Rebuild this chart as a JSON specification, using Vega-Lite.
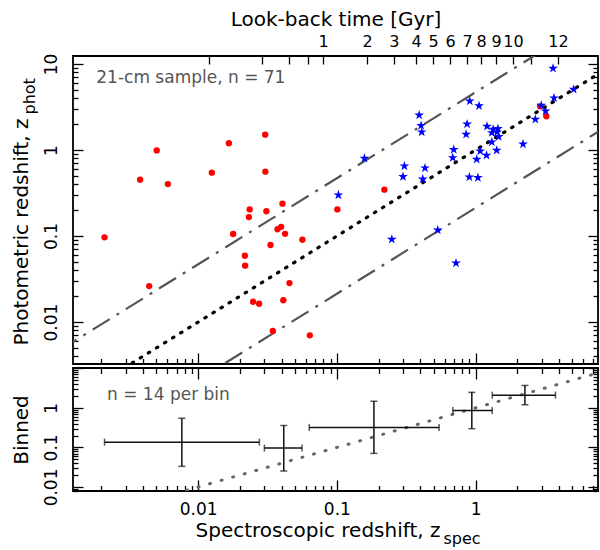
{
  "$schema": "https://vega.github.io/schema/vega-lite/v6.json",
  "background": "white",
  "padding": {"left": 10, "top": 8, "right": 2, "bottom": 2},
  "spacing": 0,
  "datasets": {
    "lines": [
      {"z": 0.001, "one": 0.001, "hi": 0.0047, "lo": 0.000213},
      {"z": 10, "one": 10, "hi": 47, "lo": 2.13}
    ],
    "red": [
      {"z": 0.00211, "zp": 0.0966}, {"z": 0.00381, "zp": 0.452}, {"z": 0.00502, "zp": 0.99},
      {"z": 0.00604, "zp": 0.402}, {"z": 0.00443, "zp": 0.0262}, {"z": 0.01253, "zp": 0.545},
      {"z": 0.01663, "zp": 1.2}, {"z": 0.01786, "zp": 0.1055}, {"z": 0.0304, "zp": 1.51},
      {"z": 0.0305, "zp": 0.56}, {"z": 0.0235, "zp": 0.204}, {"z": 0.0232, "zp": 0.166},
      {"z": 0.031, "zp": 0.194}, {"z": 0.0405, "zp": 0.238}, {"z": 0.0396, "zp": 0.128},
      {"z": 0.0373, "zp": 0.12}, {"z": 0.0423, "zp": 0.106}, {"z": 0.0332, "zp": 0.0786},
      {"z": 0.0217, "zp": 0.059}, {"z": 0.0218, "zp": 0.0452}, {"z": 0.0564, "zp": 0.0906},
      {"z": 0.0455, "zp": 0.0284}, {"z": 0.0249, "zp": 0.0172}, {"z": 0.0275, "zp": 0.0163},
      {"z": 0.0411, "zp": 0.0179}, {"z": 0.0345, "zp": 0.00786}, {"z": 0.0638, "zp": 0.007},
      {"z": 0.1008, "zp": 0.204}, {"z": 0.22, "zp": 0.346}, {"z": 3.24, "zp": 2.47},
      {"z": 2.92, "zp": 3.22}
    ],
    "blue": [
      {"z": 0.1025, "zp": 0.3}, {"z": 0.158, "zp": 0.8}, {"z": 0.249, "zp": 0.0916},
      {"z": 0.307, "zp": 0.652}, {"z": 0.3, "zp": 0.49}, {"z": 0.392, "zp": 2.55},
      {"z": 0.405, "zp": 1.92}, {"z": 0.409, "zp": 1.62}, {"z": 0.432, "zp": 0.618},
      {"z": 0.416, "zp": 0.46}, {"z": 0.534, "zp": 0.117}, {"z": 0.723, "zp": 0.0485},
      {"z": 0.696, "zp": 1.01}, {"z": 0.685, "zp": 0.814}, {"z": 0.908, "zp": 3.71},
      {"z": 1.06, "zp": 3.27}, {"z": 0.869, "zp": 2.0}, {"z": 0.855, "zp": 1.52},
      {"z": 0.902, "zp": 0.485}, {"z": 1.04, "zp": 0.477}, {"z": 1.08, "zp": 0.973},
      {"z": 1.02, "zp": 0.78}, {"z": 1.2, "zp": 0.867}, {"z": 1.21, "zp": 1.885},
      {"z": 1.34, "zp": 1.74}, {"z": 1.45, "zp": 1.77}, {"z": 1.31, "zp": 1.59},
      {"z": 1.43, "zp": 1.62}, {"z": 1.47, "zp": 1.43}, {"z": 1.31, "zp": 1.24},
      {"z": 1.42, "zp": 0.99}, {"z": 2.2, "zp": 1.17}, {"z": 2.7, "zp": 2.27},
      {"z": 2.98, "zp": 3.31}, {"z": 3.2, "zp": 2.84}, {"z": 3.62, "zp": 8.9},
      {"z": 3.68, "zp": 4.03}, {"z": 5.1, "zp": 5.08}
    ],
    "bins": [
      {"z": 0.00762, "zlo": 0.00211, "zhi": 0.0276, "p": 0.136, "plo": 0.0332, "phi": 0.547},
      {"z": 0.0414, "zlo": 0.03, "zhi": 0.0561, "p": 0.096, "plo": 0.0253, "phi": 0.358},
      {"z": 0.185, "zlo": 0.0632, "zhi": 0.546, "p": 0.321, "plo": 0.0706, "phi": 1.47},
      {"z": 0.94, "zlo": 0.686, "zhi": 1.32, "p": 0.855, "plo": 0.298, "phi": 2.47},
      {"z": 2.27, "zlo": 1.32, "zhi": 3.77, "p": 2.1, "plo": 1.2, "phi": 3.69}
    ],
    "note_top": [{"z": 0.00184, "zp": 6.06, "text": "21-cm sample, n = 71"}],
    "note_bottom": [{"z": 0.0022, "zp": 1.59, "text": "n = 14 per bin"}]
  },
  "vconcat": [
    {
      "width": 525,
      "height": 308,
      "layer": [
        {
          "data": {"name": "lines"},
          "mark": {"type": "line", "clip": true, "color": "#555555", "strokeWidth": 2.2, "strokeDash": [20, 8, 3, 8]},
          "encoding": {
            "x": {"field": "z", "type": "quantitative", "scale": {"type": "log", "domain": [0.00125, 7.64], "nice": false},
              "axis": {"orient": "bottom", "values": [0.01, 0.1, 1], "labels": false, "tickSize": -11, "title": null}},
            "y": {"field": "hi", "type": "quantitative", "scale": {"type": "log", "domain": [0.00325, 12.4], "nice": false},
              "axis": {"orient": "left", "values": [0.01, 0.1, 1, 10], "tickSize": -10,
                "labelExpr": "datum.value >= 10 ? '10' : datum.value >= 1 ? '1' : datum.value >= 0.1 ? '0.1' : '0.01'",
                "labelAngle": 270, "labelAlign": "center", "labelBaseline": "alphabetic", "labelPadding": 27, "labelFontSize": 17,
                "title": "Photometric redshift, z", "titleFontSize": 20, "titleAngle": 270, "titleAlign": "right",
                "titleBaseline": "alphabetic", "titleX": -46, "titleY": 62}}
          }
        },
        {
          "data": {"name": "lines"},
          "mark": {"type": "line", "clip": true, "color": "#555555", "strokeWidth": 2.2, "strokeDash": [20, 8, 3, 8]},
          "encoding": {
            "x": {"field": "z", "type": "quantitative", "scale": {"type": "log", "domain": [0.00125, 7.64], "nice": false},
              "axis": {"orient": "bottom", "values": [0.002,0.003,0.004,0.005,0.006,0.007,0.008,0.009,0.02,0.03,0.04,0.05,0.06,0.07,0.08,0.09,0.2,0.3,0.4,0.5,0.6,0.7,0.8,0.9,2,3,4,5,6,7], "labels": false, "tickSize": -5.5, "title": null}},
            "y": {"field": "lo", "type": "quantitative", "scale": {"type": "log", "domain": [0.00325, 12.4], "nice": false},
              "axis": {"orient": "left", "values": [0.004,0.005,0.006,0.007,0.008,0.009,0.02,0.03,0.04,0.05,0.06,0.07,0.08,0.09,0.2,0.3,0.4,0.5,0.6,0.7,0.8,0.9,2,3,4,5,6,7,8,9], "labels": false, "tickSize": -5,
                "title": "phot", "titleFontSize": 16, "titleAngle": 270, "titleAlign": "left", "titleBaseline": "alphabetic", "titleX": -39, "titleY": 58}}
          }
        },
        {
          "data": {"name": "lines"},
          "mark": {"type": "line", "clip": true, "color": "black", "strokeWidth": 3.2, "strokeDash": [1.5, 8], "strokeCap": "round"},
          "encoding": {
            "x": {"field": "z", "type": "quantitative", "scale": {"type": "log", "domain": [0.00125, 7.64], "nice": false},
              "axis": {"orient": "top", "values": [0.012,0.0289,0.0452,0.062,0.0795,0.165,0.258,0.372,0.494,0.655,0.869,1.096,1.406,1.86,2.51,3.93],
                "tickSize": -8,
                "labelExpr": "datum.value < 0.07 ? '' : datum.value < 0.1 ? '1' : datum.value < 0.2 ? '2' : datum.value < 0.3 ? '3' : datum.value < 0.4 ? '4' : datum.value < 0.55 ? '5' : datum.value < 0.7 ? '6' : datum.value < 0.95 ? '7' : datum.value < 1.2 ? '8' : datum.value < 1.6 ? '9' : datum.value < 2.2 ? '10' : datum.value < 3 ? '' : '12'",
                "labelFontSize": 16, "labelBaseline": "alphabetic", "labelPadding": 18,
                "title": "Look-back time [Gyr]", "titleFontSize": 20, "titleBaseline": "alphabetic", "titleY": -31}},
            "y": {"field": "one", "type": "quantitative", "scale": {"type": "log", "domain": [0.00325, 12.4], "nice": false},
              "axis": {"orient": "right", "values": [0.01, 0.1, 1, 10], "labels": false, "tickSize": -10, "title": null}}
          }
        },
        {
          "data": {"name": "red"},
          "mark": {"type": "circle", "color": "#ff0000", "opacity": 1, "size": 40},
          "encoding": {
            "x": {"field": "z", "type": "quantitative", "scale": {"type": "log", "domain": [0.00125, 7.64], "nice": false}, "axis": null},
            "y": {"field": "zp", "type": "quantitative", "scale": {"type": "log", "domain": [0.00325, 12.4], "nice": false},
              "axis": {"orient": "right", "values": [0.004,0.005,0.006,0.007,0.008,0.009,0.02,0.03,0.04,0.05,0.06,0.07,0.08,0.09,0.2,0.3,0.4,0.5,0.6,0.7,0.8,0.9,2,3,4,5,6,7,8,9], "labels": false, "tickSize": -5, "title": null}}
          }
        },
        {
          "data": {"name": "blue"},
          "mark": {"type": "point", "shape": "M0,-1L0.2245,-0.309L0.951,-0.309L0.363,0.118L0.588,0.809L0,0.382L-0.588,0.809L-0.363,0.118L-0.951,-0.309L-0.2245,-0.309Z", "filled": true, "color": "#0000ff", "opacity": 1, "size": 105},
          "encoding": {
            "x": {"field": "z", "type": "quantitative", "scale": {"type": "log", "domain": [0.00125, 7.64], "nice": false}, "axis": null},
            "y": {"field": "zp", "type": "quantitative", "scale": {"type": "log", "domain": [0.00325, 12.4], "nice": false}, "axis": null}
          }
        },
        {
          "data": {"name": "note_top"},
          "mark": {"type": "text", "align": "left", "baseline": "alphabetic", "fontSize": 17, "color": "#555555"},
          "encoding": {
            "x": {"field": "z", "type": "quantitative", "scale": {"type": "log", "domain": [0.00125, 7.64], "nice": false}, "axis": null},
            "y": {"field": "zp", "type": "quantitative", "scale": {"type": "log", "domain": [0.00325, 12.4], "nice": false}, "axis": null},
            "text": {"field": "text"}
          }
        }
      ],
      "resolve": {"axis": {"x": "independent", "y": "independent"}}
    },
    {
      "width": 525,
      "height": 123,
      "layer": [
        {
          "data": {"name": "lines"},
          "mark": {"type": "line", "clip": true, "color": "#666666", "strokeWidth": 3, "strokeDash": [1, 11], "strokeCap": "round"},
          "encoding": {
            "x": {"field": "z", "type": "quantitative", "scale": {"type": "log", "domain": [0.00125, 7.64], "nice": false},
              "axis": {"orient": "bottom", "values": [0.01, 0.1, 1], "tickSize": -11,
                "labelExpr": "datum.value >= 1 ? '1' : datum.value >= 0.1 ? '0.1' : '0.01'",
                "labelFontSize": 17, "labelBaseline": "alphabetic", "labelPadding": 34,
                "title": "Spectroscopic redshift, z", "titleFontSize": 20, "titleAlign": "right", "titleBaseline": "alphabetic",
                "titleX": 367, "titleY": 45}},
            "y": {"field": "one", "type": "quantitative", "scale": {"type": "log", "domain": [0.0079, 10.2], "nice": false},
              "axis": {"orient": "left", "values": [0.01, 0.1, 1, 10], "tickSize": -10,
                "labelExpr": "datum.value >= 10 ? '' : datum.value >= 1 ? '1' : datum.value >= 0.1 ? '0.1' : '0.01'",
                "labelAngle": 270, "labelAlign": "center", "labelBaseline": "alphabetic", "labelPadding": 27, "labelFontSize": 17,
                "title": "Binned", "titleFontSize": 20, "titleAngle": 270, "titleBaseline": "alphabetic", "titleX": -46}}
          }
        },
        {
          "data": {"name": "bins"},
          "mark": {"type": "rule", "color": "#111111", "strokeWidth": 1.5},
          "encoding": {
            "x": {"field": "zlo", "type": "quantitative", "scale": {"type": "log", "domain": [0.00125, 7.64], "nice": false},
              "axis": {"orient": "bottom", "values": [0.002,0.003,0.004,0.005,0.006,0.007,0.008,0.009,0.02,0.03,0.04,0.05,0.06,0.07,0.08,0.09,0.2,0.3,0.4,0.5,0.6,0.7,0.8,0.9,2,3,4,5,6,7], "labels": false, "tickSize": -5.5,
                "title": "spec", "titleFontSize": 16, "titleAlign": "left", "titleBaseline": "alphabetic", "titleX": 370, "titleY": 52}},
            "x2": {"field": "zhi"},
            "y": {"field": "p", "type": "quantitative", "scale": {"type": "log", "domain": [0.0079, 10.2], "nice": false},
              "axis": {"orient": "left", "values": [0.008,0.009,0.02,0.03,0.04,0.05,0.06,0.07,0.08,0.09,0.2,0.3,0.4,0.5,0.6,0.7,0.8,0.9,2,3,4,5,6,7,8,9], "labels": false, "tickSize": -5, "title": null}}
          }
        },
        {
          "data": {"name": "bins"},
          "mark": {"type": "rule", "color": "#111111", "strokeWidth": 1.5},
          "encoding": {
            "x": {"field": "z", "type": "quantitative", "scale": {"type": "log", "domain": [0.00125, 7.64], "nice": false},
              "axis": {"orient": "top", "values": [0.01, 0.1, 1], "labels": false, "tickSize": -11, "title": null}},
            "y": {"field": "plo", "type": "quantitative", "scale": {"type": "log", "domain": [0.0079, 10.2], "nice": false},
              "axis": {"orient": "right", "values": [0.01, 0.1, 1, 10], "labels": false, "tickSize": -10, "title": null}},
            "y2": {"field": "phi"}
          }
        },
        {
          "data": {"name": "bins"},
          "mark": {"type": "tick", "orient": "vertical", "color": "#111111", "size": 7, "thickness": 1.5},
          "encoding": {
            "x": {"field": "zlo", "type": "quantitative", "scale": {"type": "log", "domain": [0.00125, 7.64], "nice": false},
              "axis": {"orient": "top", "values": [0.002,0.003,0.004,0.005,0.006,0.007,0.008,0.009,0.02,0.03,0.04,0.05,0.06,0.07,0.08,0.09,0.2,0.3,0.4,0.5,0.6,0.7,0.8,0.9,2,3,4,5,6,7], "labels": false, "tickSize": -5.5, "title": null}},
            "y": {"field": "p", "type": "quantitative", "scale": {"type": "log", "domain": [0.0079, 10.2], "nice": false},
              "axis": {"orient": "right", "values": [0.008,0.009,0.02,0.03,0.04,0.05,0.06,0.07,0.08,0.09,0.2,0.3,0.4,0.5,0.6,0.7,0.8,0.9,2,3,4,5,6,7,8,9], "labels": false, "tickSize": -5, "title": null}}
          }
        },
        {
          "data": {"name": "bins"},
          "mark": {"type": "tick", "orient": "vertical", "color": "#111111", "size": 7, "thickness": 1.5},
          "encoding": {
            "x": {"field": "zhi", "type": "quantitative", "scale": {"type": "log", "domain": [0.00125, 7.64], "nice": false}, "axis": null},
            "y": {"field": "p", "type": "quantitative", "scale": {"type": "log", "domain": [0.0079, 10.2], "nice": false}, "axis": null}
          }
        },
        {
          "data": {"name": "bins"},
          "mark": {"type": "tick", "orient": "horizontal", "color": "#111111", "size": 7, "thickness": 1.5},
          "encoding": {
            "x": {"field": "z", "type": "quantitative", "scale": {"type": "log", "domain": [0.00125, 7.64], "nice": false}, "axis": null},
            "y": {"field": "plo", "type": "quantitative", "scale": {"type": "log", "domain": [0.0079, 10.2], "nice": false}, "axis": null}
          }
        },
        {
          "data": {"name": "bins"},
          "mark": {"type": "tick", "orient": "horizontal", "color": "#111111", "size": 7, "thickness": 1.5},
          "encoding": {
            "x": {"field": "z", "type": "quantitative", "scale": {"type": "log", "domain": [0.00125, 7.64], "nice": false}, "axis": null},
            "y": {"field": "phi", "type": "quantitative", "scale": {"type": "log", "domain": [0.0079, 10.2], "nice": false}, "axis": null}
          }
        },
        {
          "data": {"name": "note_bottom"},
          "mark": {"type": "text", "align": "left", "baseline": "alphabetic", "fontSize": 17, "color": "#555555"},
          "encoding": {
            "x": {"field": "z", "type": "quantitative", "scale": {"type": "log", "domain": [0.00125, 7.64], "nice": false}, "axis": null},
            "y": {"field": "zp", "type": "quantitative", "scale": {"type": "log", "domain": [0.0079, 10.2], "nice": false}, "axis": null},
            "text": {"field": "text"}
          }
        }
      ],
      "resolve": {"axis": {"x": "independent", "y": "independent"}}
    }
  ],
  "config": {
    "font": "DejaVu Sans",
    "view": {"stroke": "black", "strokeWidth": 1.8},
    "axis": {
      "domain": false, "grid": false, "labelOverlap": false, "labelFlush": false,
      "tickColor": "black", "tickWidth": 1.3, "labelColor": "black", "titleColor": "black",
      "titleFontWeight": "normal", "labelFont": "DejaVu Sans", "titleFont": "DejaVu Sans"
    }
  }
}
